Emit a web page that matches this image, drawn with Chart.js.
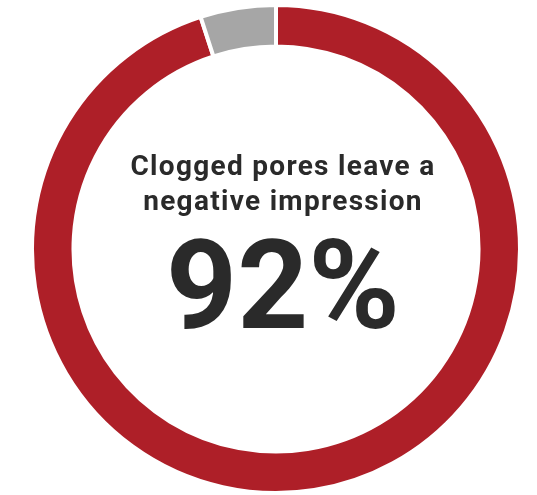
<!DOCTYPE html>
<html lang="en">
<head>
    <meta charset="UTF-8">
    <title>Clogged pores</title>
    <script src="https://cdn.jsdelivr.net/npm/chart.js"></script>
    <style>
        html, body {
            margin: 0;
            padding: 0;
            background: #ffffff;
        }
        #wrap {
            width: 537px;
            height: 495px;
        }
    </style>
</head>
<body>
    <div id="wrap"><canvas id="myChart"></canvas></div>

    <script>
        // data
        var labels = ['Negative impression', 'Other'];
        var shares = [95, 5];
        var colors = ['#AE1F28', '#A6A6A6'];
        var titleLines = ['Clogged pores leave a', 'negative impression'];
        var bigLabel = '92%';

        // text in the hole
        var centerText = {
            id: 'centerText',
            afterDraw: function (chart) {
                var arc = chart.getDatasetMeta(0).data[0];
                var cx = arc.x + 7, cy = arc.y;
                var ctx = chart.ctx;
                ctx.save();
                ctx.fillStyle = '#2a2a2a';
                ctx.textAlign = 'center';
                ctx.textBaseline = 'alphabetic';
                ctx.font = 'bold 28px "Roboto", sans-serif';
                ctx.letterSpacing = '1.3px';
                ctx.fillText(titleLines[0], cx, cy - 74);
                ctx.fillText(titleLines[1], cx, cy - 39);
                ctx.letterSpacing = '0px';
                ctx.font = 'bold 124px "Roboto", sans-serif';
                ctx.fillText(bigLabel, cx, cy + 79);
                ctx.restore();
            }
        };

        var ctx = document.getElementById('myChart').getContext('2d');
        var myChart = new Chart(ctx, {
            type: 'doughnut',
            data: {
                labels: labels,
                datasets: [{
                    data: shares,
                    backgroundColor: colors,
                    borderColor: '#ffffff',
                    borderWidth: 4
                }]
            },
            options: {
                responsive: true,
                maintainAspectRatio: false,
                animation: false,
                cutout: '83%',
                layout: {
                    padding: { left: 15, right: 0, top: 3, bottom: 0 }
                },
                plugins: {
                    legend: { display: false },
                    tooltip: { enabled: false }
                }
            },
            plugins: [centerText]
        });
    </script>
</body>
</html>
